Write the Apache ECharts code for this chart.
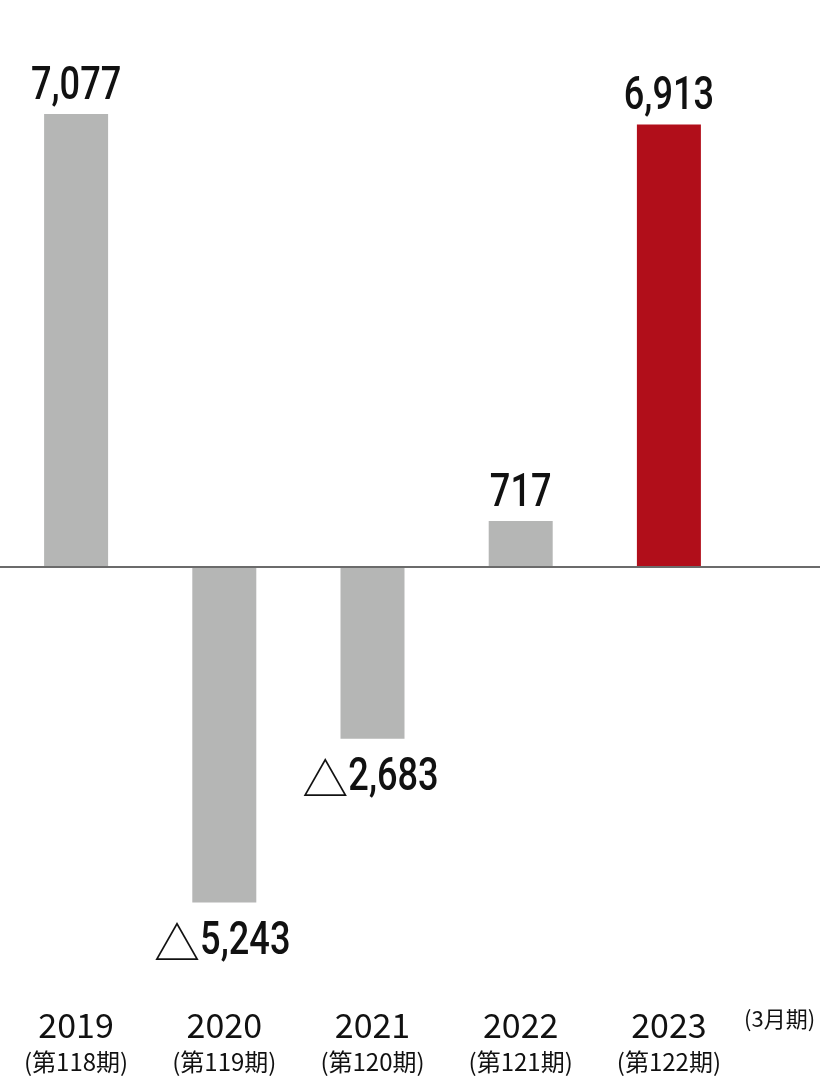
<!DOCTYPE html>
<html><head><meta charset="utf-8">
<script src="https://cdn.jsdelivr.net/npm/echarts@6/dist/echarts.min.js"></script>
<style>html,body{margin:0;padding:0;background:#fff}#c{width:820px;height:1087px}</style>
</head><body><div id="c"></div>
<script>
const years = ['2019','2020','2021','2022','2023'];
const periods = ['(第118期)','(第119期)','(第120期)','(第121期)','(第122期)'];
const values = [7077, -5243, -2683, 717, 6913];
const unitNote = '(3月期)';

const GRAY = '#b5b6b5', RED = '#b10e1a';
const NUM_FONT = '500 47px Roboto', TRI_FONT = '46px "Noto Sans CJK JP"', SX = 0.77;
const chart = echarts.init(document.getElementById('c'), null, {renderer:'canvas'});
const data = values.map((v, i) => ({
  value: v,
  itemStyle: {color: i === values.length - 1 ? RED : GRAY}
}));
chart.setOption({
  animation: false,
  grid: {left: 2, right: 77, top: 55, bottom: 136},
  xAxis: {
    type: 'category', data: years, position: 'bottom',
    axisLine: {show: false, onZero: false}, axisTick: {show: false},
    axisLabel: {
      margin: 55, interval: 0,
      formatter: (v, i) => '{y|' + v + '}\n{s|' + periods[i] + '}',
      rich: {
        y: {fontFamily: 'Noto Sans CJK JP', fontSize: 34, lineHeight: 38, color: '#111'},
        s: {fontFamily: 'Noto Sans CJK JP', fontSize: 24, lineHeight: 36, color: '#111'}
      }
    }
  },
  yAxis: {type: 'value', min: -6000, max: 8000, show: false, splitLine: {show: false}},
  series: [{type: 'bar', data: data, barWidth: 64, label: {show: false}}]
});

const ctx = document.createElement('canvas').getContext('2d');
const measure = (t, f) => { ctx.font = f; return ctx.measureText(t).width; };
const y0 = chart.convertToPixel({yAxisIndex: 0}, 0);
const graphics = [
  {type: 'line', shape: {x1: 0, y1: y0, x2: 820, y2: y0}, style: {stroke: '#6b6b6b', lineWidth: 2}, z: 10},
  {type: 'text', x: 744, y: 1008, style: {text: unitNote, font: '22px "Noto Sans CJK JP"', fill: '#111'}}
];
values.forEach((v, i) => {
  const [cx, yEnd] = chart.convertToPixel({seriesIndex: 0}, [i, v]);
  const txt = Math.abs(v).toLocaleString('en-US');
  const numW = measure(txt, NUM_FONT) * SX;
  if (v >= 0) {
    const left = cx - numW / 2;
    graphics.push({type: 'text', x: left, y: yEnd - 27, scaleX: SX,
      style: {text: txt, font: NUM_FONT, fill: '#111', align: 'left', verticalAlign: 'middle'}});
  } else {
    const triW = measure('△', TRI_FONT);
    const left = cx - 2 - (triW + numW) / 2;
    const ym = yEnd + 40;
    graphics.push({type: 'text', x: left, y: ym,
      style: {text: '△', font: TRI_FONT, fill: '#111', align: 'left', verticalAlign: 'middle'}});
    graphics.push({type: 'text', x: left + triW, y: ym, scaleX: SX,
      style: {text: txt, font: NUM_FONT, fill: '#111', align: 'left', verticalAlign: 'middle'}});
  }
});
chart.setOption({graphic: graphics});
</script></body></html>
